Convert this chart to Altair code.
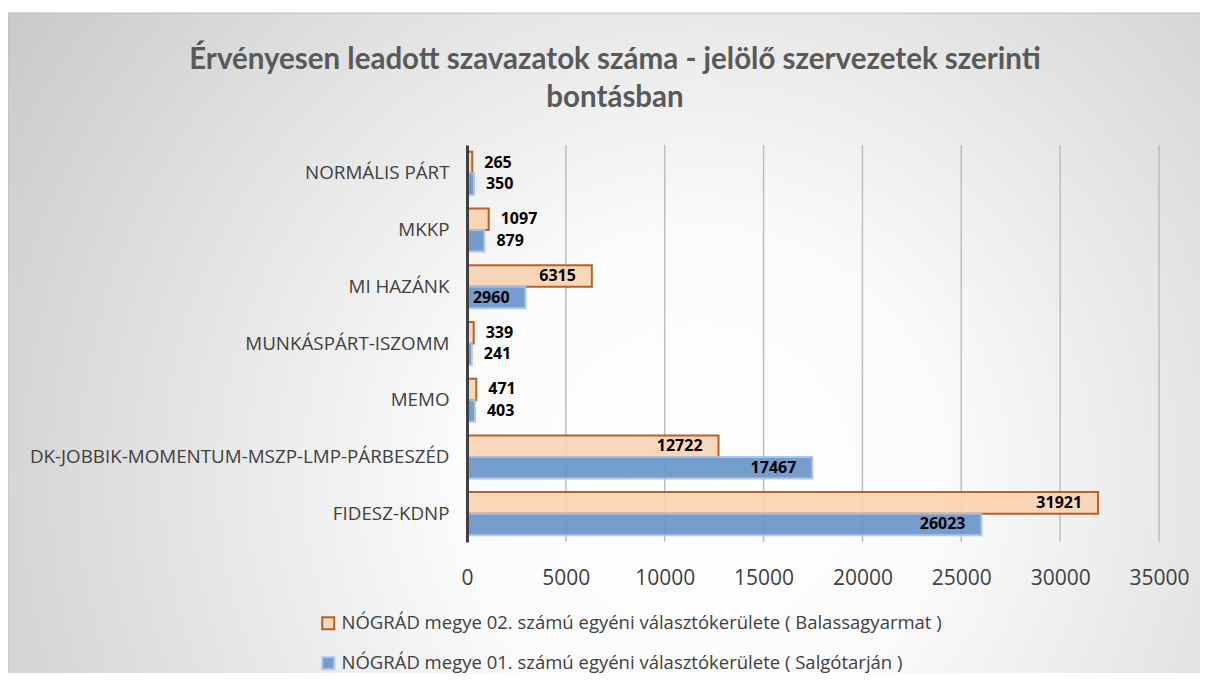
import altair as alt
import pandas as pd

parties = ["NORMÁLIS PÁRT", "MKKP", "MI HAZÁNK", "MUNKÁSPÁRT-ISZOMM", "MEMO",
           "DK-JOBBIK-MOMENTUM-MSZP-LMP-PÁRBESZÉD", "FIDESZ-KDNP"]
series_02 = "NÓGRÁD megye 02. számú egyéni választókerülete ( Balassagyarmat )"
series_01 = "NÓGRÁD megye 01. számú egyéni választókerülete ( Salgótarján )"
values_02 = [265, 1097, 6315, 339, 471, 12722, 31921]
values_01 = [350, 879, 2960, 241, 403, 17467, 26023]
x_ticks = [0, 5000, 10000, 15000, 20000, 25000, 30000, 35000]

rows = []
for p, a, b in zip(parties, values_02, values_01):
    rows.append({"party": p, "series": series_02, "value": a})
    rows.append({"party": p, "series": series_01, "value": b})
df = pd.DataFrame(rows)
grid_df = pd.DataFrame({"value": x_ticks[1:]})

series_order = [series_02, series_01]
fill_scale = alt.Scale(domain=series_order, range=["#fbd4b4", "#6a96cb"])
stroke_scale = alt.Scale(domain=series_order, range=["#b0561a", "#a9c3e6"])

W, H = 692, 397
PAD_L, PAD_T, PAD_R, PAD_B = 459, 137, 41, 131

bg = alt.Chart(pd.DataFrame({"a": [0]})).mark_rect(
    fill={
        "gradient": "radial",
        "x1": 0.57, "y1": 0.6, "r1": 0,
        "x2": 0.57, "y2": 0.6, "r2": 0.72,
        "stops": [
            {"offset": 0, "color": "#ffffff"},
            {"offset": 0.28, "color": "#fbfbfb"},
            {"offset": 1, "color": "#c6c6c6"},
        ],
    },
    stroke="#bdbdbd",
    strokeWidth=1,
).encode(
    x=alt.value(-PAD_L),
    x2=alt.value(W + PAD_R + 20),
    y=alt.value(-132),
    y2=alt.value(H + PAD_B + 30),
)

x_scale = alt.Scale(domain=[0, 35000], nice=False)
x_axis = alt.Axis(title=None, values=x_ticks, format="d",
                  domain=False, ticks=False, grid=False,
                  labelFontSize=21, labelColor="#404040",
                  labelFont="Open Sans", labelPadding=25,
                  labelFlush=False, zindex=1)

grid = alt.Chart(grid_df).mark_rule(color="#bdbdbd", strokeWidth=1.5).encode(
    x=alt.X("value:Q", scale=x_scale, axis=x_axis),
    y=alt.value(0),
    y2=alt.value(H),
)

y_enc = alt.Y("party:N", sort=parties,
              scale=alt.Scale(paddingInner=0.24, paddingOuter=0.12),
              axis=alt.Axis(title=None, ticks=False, grid=False,
                            domainColor="#404040", domainWidth=3,
                            labelFontSize=18.8, labelColor="#404040",
                            labelFont="Open Sans", labelPadding=18,
                            labelLimit=600, zindex=1))
yoff = alt.YOffset("series:N", sort=series_order,
                   scale=alt.Scale(paddingInner=0, paddingOuter=0))

bars = alt.Chart(df).mark_bar(strokeWidth=2, opacity=0.92).encode(
    x=alt.X("value:Q", scale=x_scale, axis=x_axis),
    y=y_enc,
    yOffset=yoff,
    fill=alt.Fill("series:N", scale=fill_scale,
                  legend=alt.Legend(title=None, orient="none",
                                    legendX=319 - 467, legendY=469,
                                    symbolType="square", symbolSize=144,
                                    symbolStrokeWidth=2,
                                    labelFontSize=18.5, labelColor="#404040",
                                    labelFont="Open Sans", labelLimit=900,
                                    labelOffset=4, rowPadding=19,
                                    zindex=1)),
    stroke=alt.Stroke("series:N", scale=stroke_scale, legend=None),
)

label_font = "Open Sans"
outside = alt.Chart(df).transform_filter("datum.value < 2500").mark_text(
    align="left", baseline="middle", dx=12, fontWeight="bold",
    fontSize=16, font=label_font, color="#000000",
).encode(x="value:Q", y=alt.Y("party:N", sort=parties), yOffset=yoff,
         text="value:Q")

inside = alt.Chart(df).transform_filter("datum.value >= 2500").mark_text(
    align="right", baseline="middle", dx=-16, fontWeight="bold",
    fontSize=16, font=label_font, color="#000000",
).encode(x="value:Q", y=alt.Y("party:N", sort=parties), yOffset=yoff,
         text="value:Q")

chart = alt.layer(bg, grid, bars, outside, inside).properties(
    width=W, height=H,
    title=alt.TitleParams(
        text=["Érvényesen leadott szavazatok száma - jelölő szervezetek szerinti",
              "bontásban"],
        font="Lato", fontSize=29.5, fontWeight="bold",
        color="#595959", anchor="middle", frame="group", dx=-198, offset=-101,
        lineHeight=38, zindex=1,
    ),
    padding={"left": PAD_L, "top": PAD_T, "right": PAD_R, "bottom": PAD_B},
    autosize=alt.AutoSizeParams(type="none"),
).configure(background="white").configure_view(stroke=None)

chart.save("out.html", embed_options={"renderer": "svg", "actions": False})
